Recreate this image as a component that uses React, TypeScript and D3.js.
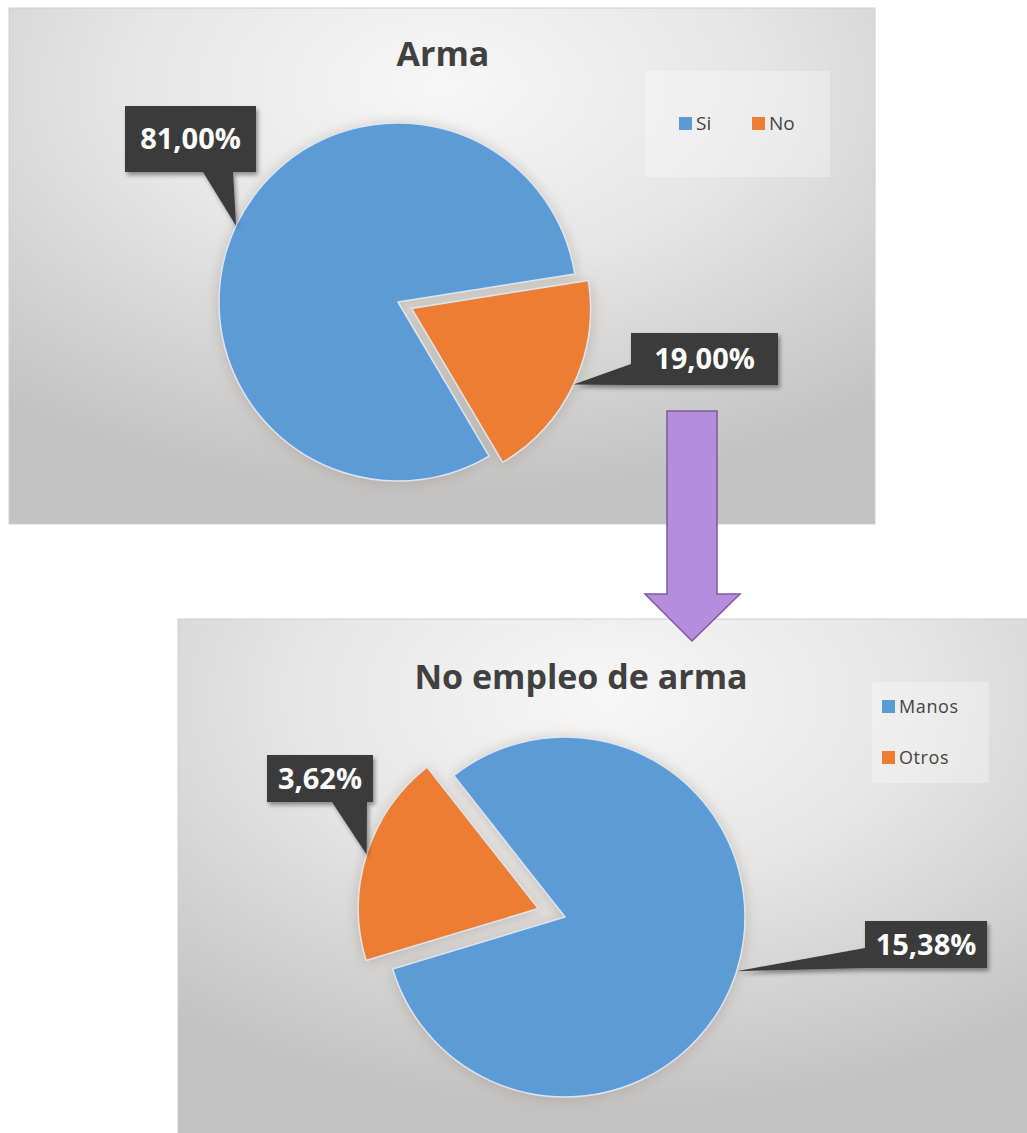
import React from "react";
import * as d3 from "d3";

// ---------- data ----------
const chartTitles = ["Arma", "No empleo de arma"];
const armaCategories = ["Si", "No"];
const armaValues = [81.0, 19.0];
const noArmaCategories = ["Manos", "Otros"];
const noArmaValues = [15.38, 3.62];
const sliceColors = ["#5B9BD5", "#ED7D31"];

// ---------- layout ----------
const W = 1027;
const H = 1133;
const FONT = "'Open Sans', 'Noto Sans', sans-serif";

const locale = d3.formatLocale({ decimal: ",", thousands: ".", grouping: [3], currency: ["", "€"] });
const fmt = (v: number) => locale.format(".2f")(v) + "%";

type LabelLayout = { x: number; y: number; w: number; h: number; side: "bottom" | "left"; b1: number; b2: number };

type ChartCfg = {
  id: string;
  title: string;
  categories: string[];
  values: number[];
  panel: { x: number; y: number; w: number; h: number };
  titlePos: { x: number; y: number };
  cx: number;
  cy: number;
  r: number;
  startDeg: number;
  explodeIndex: number;
  explode: number;
  labels: LabelLayout[];
  legend: { x: number; y: number; w: number; h: number; items: { x: number; y: number }[]; font: number; spacing: number };
};

const charts: ChartCfg[] = [
  {
    id: "top",
    title: chartTitles[0],
    categories: armaCategories,
    values: armaValues,
    panel: { x: 9, y: 8, w: 866, h: 516 },
    titlePos: { x: 443, y: 66 },
    cx: 398,
    cy: 302,
    r: 179,
    startDeg: 149.4,
    explodeIndex: 1,
    explode: 15,
    labels: [
      { x: 125, y: 106, w: 131, h: 66, side: "bottom", b1: 78, b2: 108 },
      { x: 631, y: 333, w: 147, h: 52, side: "left", b1: 31, b2: 52 },
    ],
    legend: {
      x: 645, y: 71, w: 185, h: 106, font: 19, spacing: 0,
      items: [{ x: 679, y: 117 }, { x: 752, y: 117 }],
    },
  },
  {
    id: "bottom",
    title: chartTitles[1],
    categories: noArmaCategories,
    values: noArmaValues,
    panel: { x: 178, y: 619, w: 860, h: 520 },
    titlePos: { x: 581, y: 689 },
    cx: 565,
    cy: 917,
    r: 180,
    startDeg: 321.8,
    explodeIndex: 1,
    explode: 28,
    labels: [
      { x: 865, y: 921, w: 122, h: 47, side: "left", b1: 27, b2: 47 },
      { x: 267, y: 755, w: 106, h: 47, side: "bottom", b1: 65, b2: 100 },
    ],
    legend: {
      x: 872, y: 682, w: 117, h: 101, font: 18, spacing: 0.6,
      items: [{ x: 882, y: 700 }, { x: 882, y: 751 }],
    },
  },
];

function calloutPath(l: LabelLayout, tx: number, ty: number) {
  const { x, y, w, h, b1, b2 } = l;
  if (l.side === "bottom") {
    return `M${x},${y}L${x + w},${y}L${x + w},${y + h}L${x + b2},${y + h}L${tx},${ty}L${x + b1},${y + h}L${x},${y + h}Z`;
  }
  return `M${x},${y}L${x + w},${y}L${x + w},${y + h}L${x},${y + h}L${x},${y + b2}L${tx},${ty}L${x},${y + b1}Z`;
}

function Chart({ c }: { c: ChartCfg }) {
  const start = (c.startDeg * Math.PI) / 180;
  const pie = d3
    .pie<number>()
    .sort(null)
    .value((d) => d)
    .startAngle(start)
    .endAngle(start + 2 * Math.PI);
  const arcs = pie(c.values);
  const arc = d3.arc<d3.PieArcDatum<number>>().innerRadius(0).outerRadius(c.r);
  const color = d3.scaleOrdinal<string, string>().domain(c.categories).range(sliceColors);

  const slices = arcs.map((a, i) => {
    const mid = (a.startAngle + a.endAngle) / 2;
    const off = i === c.explodeIndex ? c.explode : 0;
    const ox = Math.sin(mid) * off;
    const oy = -Math.cos(mid) * off;
    const tx = c.cx + ox + Math.sin(mid) * c.r;
    const ty = c.cy + oy - Math.cos(mid) * c.r;
    return { a, i, ox, oy, tx, ty };
  });

  const p = c.panel;
  return (
    <g>
      <rect x={p.x} y={p.y} width={p.w} height={p.h} fill={`url(#bg-${c.id})`} stroke="#cfcfcf" strokeWidth={1} />
      <text
        x={c.titlePos.x}
        y={c.titlePos.y}
        textAnchor="middle"
        fontFamily={FONT}
        fontWeight={700}
        fontSize={34}
        fill="#404040"
      >
        {c.title}
      </text>

      {/* legend */}
      <rect x={c.legend.x} y={c.legend.y} width={c.legend.w} height={c.legend.h} fill="#ffffff" opacity={0.3} />
      {c.categories.map((cat, i) => (
        <g key={cat}>
          <rect x={c.legend.items[i].x} y={c.legend.items[i].y} width={13} height={13} fill={color(cat)} />
          <text
            x={c.legend.items[i].x + 17}
            y={c.legend.items[i].y + 13}
            fontFamily={FONT}
            fontSize={c.legend.font}
            letterSpacing={c.legend.spacing}
            fill="#444444"
          >
            {cat}
          </text>
        </g>
      ))}

      {/* pie */}
      <g filter="url(#pieShadow)">
        {slices.map((s) => (
          <path
            key={s.i}
            d={arc(s.a) || ""}
            transform={`translate(${c.cx + s.ox},${c.cy + s.oy})`}
            fill={color(c.categories[s.i])}
            stroke="#dde6ef"
            strokeWidth={1.5}
            strokeLinejoin="round"
          />
        ))}
      </g>

      {/* callouts */}
      {slices.map((s) => {
        const l = c.labels[s.i];
        return (
          <g key={"l" + s.i}>
            <path d={calloutPath(l, s.tx, s.ty)} fill="#3a3a3a" filter="url(#boxShadow)" />
            <text
              x={l.x + l.w / 2}
              y={l.y + l.h / 2 + 10}
              textAnchor="middle"
              fontFamily={FONT}
              fontWeight={700}
              fontSize={29}
              fill="#ffffff"
            >
              {fmt(c.values[s.i])}
            </text>
          </g>
        );
      })}
    </g>
  );
}

export default function App() {
  const arrow = { sx0: 667, sx1: 717, sy0: 411, sy1: 594, hx0: 645, hx1: 740, tipX: 692, tipY: 641 };
  const arrowPath = `M${arrow.sx0},${arrow.sy0}L${arrow.sx1},${arrow.sy0}L${arrow.sx1},${arrow.sy1}L${arrow.hx1},${arrow.sy1}L${arrow.tipX},${arrow.tipY}L${arrow.hx0},${arrow.sy1}L${arrow.sx0},${arrow.sy1}Z`;
  return (
    <svg
      width={W}
      height={H}
      viewBox={`0 0 ${W} ${H}`}
      style={{ position: "absolute", left: 0, top: 0, display: "block", background: "#ffffff" }}
    >
      <defs>
        {charts.map((c) => (
          <radialGradient key={c.id} id={`bg-${c.id}`} cx="50%" cy="15%" r="80%" fx="50%" fy="15%">
            <stop offset="0%" stopColor="#f7f7f7" />
            <stop offset="45%" stopColor="#e6e6e6" />
            <stop offset="100%" stopColor="#c2c2c2" />
          </radialGradient>
        ))}
        <filter id="pieShadow" x="-20%" y="-20%" width="140%" height="140%">
          <feDropShadow dx="0" dy="2" stdDeviation="7" floodColor="#a89888" floodOpacity="0.55" />
        </filter>
        <filter id="boxShadow" x="-20%" y="-20%" width="140%" height="150%">
          <feDropShadow dx="2" dy="3" stdDeviation="2" floodColor="#000" floodOpacity="0.4" />
        </filter>
      </defs>
      <rect x={0} y={0} width={W} height={H} fill="#ffffff" />
      {charts.map((c) => (
        <Chart key={c.id} c={c} />
      ))}
      <path d={arrowPath} fill="#b68ddc" stroke="#7d5a9c" strokeWidth={1.5} />
    </svg>
  );
}
